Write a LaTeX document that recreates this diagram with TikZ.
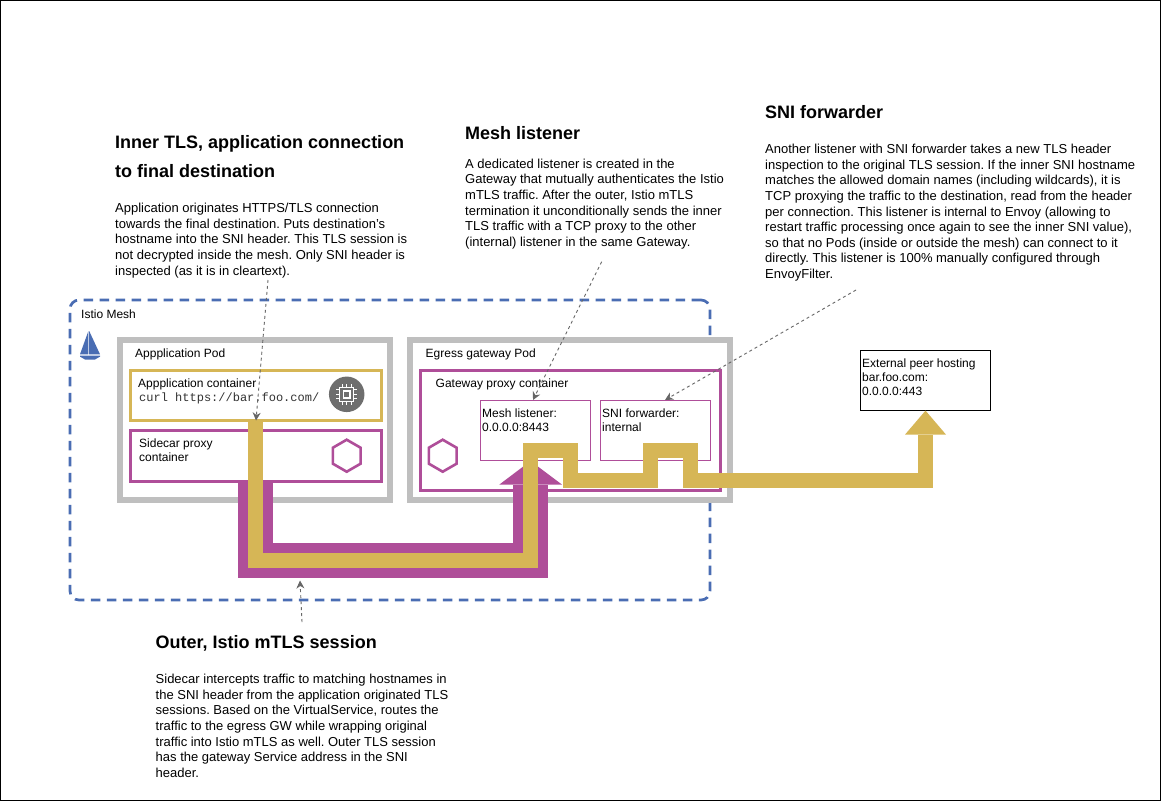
\documentclass[tikz,border=0pt]{standalone}
\usepackage{fontspec}
\setmainfont{Liberation Sans}
\setmonofont{Liberation Mono}
\usetikzlibrary{shapes.geometric,arrows.meta}
\definecolor{gold}{HTML}{D6B656}
\definecolor{plum}{HTML}{AF4E99}
\definecolor{meshblue}{HTML}{4A6DB3}
\definecolor{podgray}{HTML}{BFBFBF}
\definecolor{chipgray}{HTML}{6E6E6E}
\definecolor{leadgray}{HTML}{666666}
\tikzset{
  boxbase/.style={rectangle,anchor=north west,inner sep=0pt,outer sep=0pt,fill=white},
  podbox/.style={boxbase,draw=podgray,line width=6pt},
  goldbox/.style={boxbase,draw=gold,line width=3pt},
  plumbox/.style={boxbase,draw=plum,line width=3pt},
  listenerbox/.style={boxbase,draw=plum,line width=1pt},
  peerbox/.style={boxbase,draw=black,line width=1pt},
  hexicon/.style={regular polygon,regular polygon sides=6,shape border rotate=90,draw=plum,line width=2.6pt,minimum size=32pt,inner sep=0pt,fill=white},
  title/.style={anchor=north west,inner sep=0pt,align=left,font=\fontsize{18}{28.8}\selectfont\bfseries},
  body/.style={anchor=north west,inner sep=0pt,align=left,font=\fontsize{13}{15.6}\selectfont},
  small/.style={anchor=north west,inner sep=0pt,align=left,font=\fontsize{12}{14}\selectfont},
  flow/.style={draw=gold,line width=15pt,line join=miter,line cap=butt},
  wrap/.style={draw=plum,line width=35pt,line join=miter,line cap=butt},
  lead/.style={draw=leadgray,line width=0.9pt,dash pattern=on 3pt off 3pt,-{Stealth[length=8pt,width=8pt]}},
}
\newcommand{\fl}{\rule{0pt}{12pt}}
\newcommand{\tl}{\rule{0pt}{16pt}}
\begin{document}
\frenchspacing
\begin{tikzpicture}[x=1pt,y=-1pt]
\useasboundingbox (0,0) rectangle (1161,801);
\fill[white] (0,0) rectangle (1161,801);
\draw[black,line width=1pt] (0.5,0.5) rectangle (1160.5,800.5);

% mesh
\draw[meshblue,line width=2.7pt,dash pattern=on 9.5pt off 6.5pt,rounded corners=9pt] (710,300) -- (70,300) -- (70,600) -- (710,600) -- cycle;
\node[small] (meshlabel) at (81,306.3) {\fl Istio Mesh};

% sail icon
\fill[meshblue] (88.4,331) -- (80,354.3) -- (88.4,354.3) -- cycle;
\fill[meshblue] (89.2,331) -- (100,354.3) -- (89.2,354.3) -- cycle;
\fill[meshblue] (80,355.6) -- (100,355.6) -- (100,356.6) -- (95,359.5) -- (85,359.5) -- (80,356.6) -- cycle;

% pods
\node[podbox,minimum width=270pt,minimum height=160pt] (apppod) at (120,340) {};
\node[small] (apppodlabel) at (135,345.7) {\fl Appplication Pod};
\node[podbox,minimum width=320pt,minimum height=160pt] (gwpod) at (410,340) {};
\node[small] (gwpodlabel) at (425.5,345.7) {\fl Egress gateway Pod};

% application pod content
\node[goldbox,minimum width=250.5pt,minimum height=50pt] (appbox) at (130.5,370.5) {};
\node[small] (applabel) at (138,375.7) {\fl Appplication container};
\node[small,font=\fontsize{12}{14}\selectfont\ttfamily,text=black!80] (curl) at (139,389.7) {\fl curl https://bar.foo.com/};
\node[circle,fill=chipgray,inner sep=0pt,minimum size=35.5pt] (chip) at (346.7,394.3) {};
\begin{scope}[shift={(346.7,394.3)}]
\draw[white,line width=1.2pt] (-7,-7) rectangle (7,7);
\draw[white,line width=1.6pt] (-3.4,-3.4) rectangle (3.4,3.4);
\foreach \p in {-4.5,0,4.5}{
  \draw[white,line width=1.2pt] (\p,-7) -- (\p,-10.5);
  \draw[white,line width=1.2pt] (\p,7) -- (\p,10.5);
  \draw[white,line width=1.2pt] (-7,\p) -- (-10.5,\p);
  \draw[white,line width=1.2pt] (7,\p) -- (10.5,\p);
}
\end{scope}
\node[plumbox,minimum width=250.5pt,minimum height=50.5pt] (sidebox) at (130.5,430.5) {};
\node[small] (sidelabel) at (139,435.3) {\fl Sidecar proxy\\container};
\node[hexicon] (sidehex) at (346.7,455.7) {};

% gateway pod content
\node[plumbox,minimum width=300pt,minimum height=120pt] (gwbox) at (420.5,370.5) {};
\node[small] (gwlabel) at (435.5,375.7) {\fl Gateway proxy container};
\node[hexicon] (gwhex) at (442.7,455.7) {};
\node[listenerbox,minimum width=110pt,minimum height=60pt] (meshl) at (480.5,400.5) {};
\node[small] (meshllabel) at (482,405.7) {\fl Mesh listener:\\0.0.0.0:8443};
\node[listenerbox,minimum width=110pt,minimum height=60pt] (snil) at (600.5,400.5) {};
\node[small] (snillabel) at (602,405.7) {\fl SNI forwarder:\\internal};

% external peer
\node[peerbox,minimum width=130pt,minimum height=60pt] (peer) at (860.5,350.5) {};
\node[small] (peerlabel) at (862,355.7) {\fl External peer hosting\\bar.foo.com:\\0.0.0.0:443};

% outer mTLS session
\coordinate (wrapstart) at (255.5,482);
\coordinate (wrapend) at (530.5,484.6);
\path[wrap] (wrapstart) -- (255.5,560.5) -- (530.5,560.5) -- (wrapend);
\fill[plum] (499.3,484.6) -- (530.5,461) -- (562,484.6) -- cycle;

% inner TLS connection
\coordinate (flowstart) at (255.5,421.5);
\coordinate (flowend) at (925.5,434.6);
\path[flow] (flowstart) -- (255.5,560.3) -- (530.7,560.3) -- (530.7,450.7) -- (570.5,450.7) -- (570.5,480.5) -- (650.7,480.5) -- (650.7,450.7) -- (690.5,450.7) -- (690.5,480.5) -- (925.5,480.5) -- (flowend);
\fill[gold] (905,434.6) -- (925.5,410.6) -- (946,434.6) -- cycle;

% leaders
\coordinate (l1s) at (268,280); \coordinate (l1e) at (256,420.5);
\coordinate (l2s) at (601.7,261.7); \coordinate (l2e) at (533,400);
\coordinate (l3s) at (856,290); \coordinate (l3e) at (665,400);
\coordinate (l4s) at (302,622); \coordinate (l4e) at (300,580.5);
\draw[lead] (l1s) -- (l1e);
\draw[lead] (l2s) -- (l2e);
\draw[lead] (l3s) -- (l3e);
\draw[lead] (l4s) -- (l4e);

% texts
\node[title] (t1) at (115,132) {\tl Inner TLS, application connection\\to final destination};
\node[body] (b1) at (115,200.4) {\fl Application originates HTTPS/TLS connection\\towards the final destination. Puts destination's\\hostname into the SNI header. This TLS session is\\not decrypted inside the mesh. Only SNI header is\\inspected (as it is in cleartext).};
\node[title] (t2) at (465,123.3) {\tl Mesh listener};
\node[body] (b2) at (465,156) {\fl A dedicated listener is created in the\\Gateway that mutually authenticates the Istio\\mTLS traffic. After the outer, Istio mTLS\\termination it unconditionally sends the inner\\TLS traffic with a TCP proxy to the other\\(internal) listener in the same Gateway.};
\node[title] (t3) at (765,102.3) {\tl SNI forwarder};
\node[body] (b3) at (765,141.4) {\fl Another listener with SNI forwarder takes a new TLS header\\inspection to the original TLS session. If the inner SNI hostname\\matches the allowed domain names (including wildcards), it is\\TCP proxying the traffic to the destination, read from the header\\per connection. This listener is internal to Envoy (allowing to\\restart traffic processing once again to see the inner SNI value),\\so that no Pods (inside or outside the mesh) can connect to it\\directly. This listener is 100\% manually configured through\\EnvoyFilter.};
\node[title] (t4) at (155.5,632.3) {\tl Outer, Istio mTLS session};
\node[body] (b4) at (155.5,671.4) {\fl Sidecar intercepts traffic to matching hostnames in\\the SNI header from the application originated TLS\\sessions. Based on the VirtualService, routes the\\traffic to the egress GW while wrapping original\\traffic into Istio mTLS as well. Outer TLS session\\has the gateway Service address in the SNI\\header.};
\end{tikzpicture}
\end{document}
